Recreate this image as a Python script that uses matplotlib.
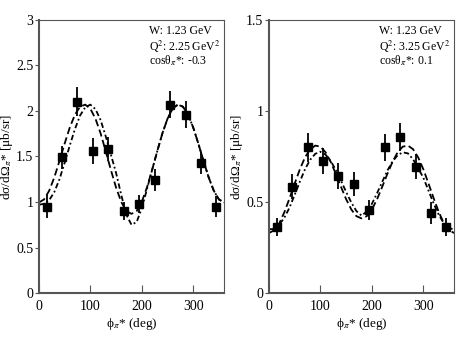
import matplotlib
matplotlib.use('Agg')
import matplotlib.pyplot as plt

plt.rcParams['font.family'] = ['Liberation Serif', 'DejaVu Serif']
plt.rcParams['mathtext.fontset'] = 'stix'

# measured points (both panels share the same phi bins)
phi = [15, 45, 75, 105, 135, 165, 195, 225, 255, 285, 315, 345]

left_y = [0.95, 1.49, 2.10, 1.56, 1.58, 0.90, 0.975, 1.24, 2.07, 1.96, 1.43, 0.95]
left_err = [0.13, 0.13, 0.16, 0.14, 0.13, 0.10, 0.10, 0.12, 0.15, 0.15, 0.12, 0.12]

right_y = [0.364, 0.584, 0.80, 0.725, 0.643, 0.60, 0.456, 0.80, 0.857, 0.694, 0.44, 0.364]
right_err = [0.05, 0.07, 0.08, 0.07, 0.07, 0.065, 0.055, 0.075, 0.075, 0.07, 0.06, 0.05]

# model curves every 10 deg
phi_curve = list(range(0, 361, 10))

left_dash = [0.995, 1.028, 1.124, 1.271, 1.451, 1.641, 1.818, 1.959, 2.047, 2.07,
             2.025, 1.915, 1.753, 1.557, 1.351, 1.159, 1.002, 0.900, 0.870,
             0.900, 1.002, 1.159, 1.351, 1.557, 1.753, 1.915, 2.025, 2.07,
             2.047, 1.959, 1.818, 1.641, 1.451, 1.271, 1.124, 1.028, 0.995]
left_dashdot = [0.97, 0.98, 1.02, 1.11, 1.25, 1.43, 1.62, 1.80, 1.95, 2.04,
                2.07, 2.02, 1.90, 1.72, 1.52, 1.32, 1.08, 0.86, 0.75,
                0.78, 0.93, 1.14, 1.351, 1.557, 1.753, 1.915, 2.025, 2.07,
                2.047, 1.959, 1.818, 1.641, 1.451, 1.271, 1.124, 1.028, 0.995]

right_dash = [0.33, 0.344, 0.383, 0.445, 0.521, 0.602, 0.680, 0.745, 0.790, 0.81,
              0.804, 0.773, 0.720, 0.654, 0.583, 0.515, 0.459, 0.422, 0.41,
              0.422, 0.459, 0.515, 0.583, 0.654, 0.720, 0.773, 0.804, 0.81,
              0.790, 0.745, 0.680, 0.602, 0.521, 0.445, 0.383, 0.344, 0.33]
right_dashdot = [0.35, 0.352, 0.375, 0.415, 0.47, 0.54, 0.612, 0.68, 0.732, 0.765,
                 0.776, 0.760, 0.725, 0.675, 0.617, 0.555, 0.497, 0.45, 0.425,
                 0.448, 0.49, 0.548, 0.61, 0.672, 0.722, 0.757, 0.773, 0.767,
                 0.735, 0.685, 0.634, 0.563, 0.492, 0.430, 0.383, 0.356, 0.35]

panels = [
    (left_y, left_err, left_dash, left_dashdot, 3.0, [0, 0.5, 1, 1.5, 2, 2.5, 3],
     ['0', '0.5', '1', '1.5', '2', '2.5', '3'], '2.25', '-0.3'),
    (right_y, right_err, right_dash, right_dashdot, 1.5, [0, 0.5, 1, 1.5],
     ['0', '0.5', '1', '1.5'], '3.25', '0.1'),
]

fig = plt.figure(figsize=(4.63, 3.38), dpi=100)
lefts = [0.084, 0.581]

for i, (y, err, c1, c2, ymax, yt, ytl, q2, cth) in enumerate(panels):
    ax = fig.add_axes([lefts[i], 0.133, 0.40, 0.808])
    ax.plot(phi_curve, c1, color='black', lw=1.3, dashes=(4, 2))
    ax.plot(phi_curve, c2, color='black', lw=1.3, dashes=(3, 1.5, 1, 1.5))
    ax.errorbar(phi, y, yerr=err, fmt='s', color='black', ms=6, elinewidth=1.3, capsize=0)
    ax.set_xlim(0, 360)
    ax.set_ylim(0, ymax)
    ax.set_xticks([0, 100, 200, 300])
    ax.set_yticks(yt)
    ax.set_yticklabels(ytl)
    ax.tick_params(axis='x', direction='in', length=6, labelsize=10, pad=5, color='#555555')
    ax.tick_params(axis='y', direction='out', length=3, labelsize=10, pad=1, color='#555555')
    for s in ['left', 'bottom']:
        ax.spines[s].set_linewidth(1.5)
        ax.spines[s].set_color('#555555')
    for s in ['top', 'right']:
        ax.spines[s].set_linewidth(0.8)
        ax.spines[s].set_color('#555555')
    ax.set_xlabel('\u03d5$_\\pi$* (deg)', fontsize=9.5, labelpad=2)
    ax.set_ylabel('dσ/dΩ$_\\pi$* [μb/sr]', fontsize=9.5, labelpad=1)
    ax.text(0.595, 0.96, 'W: 1.23 GeV', transform=ax.transAxes, fontsize=8.5, va='center')
    ax.text(0.595, 0.903, 'Q$^2$: ' + q2 + ' GeV$^2$', transform=ax.transAxes, fontsize=8.5, va='center')
    ax.text(0.595, 0.85, 'cosθ$_\\pi$*: ' + cth, transform=ax.transAxes, fontsize=8.5, va='center')

fig.savefig('out.png', dpi=100)
